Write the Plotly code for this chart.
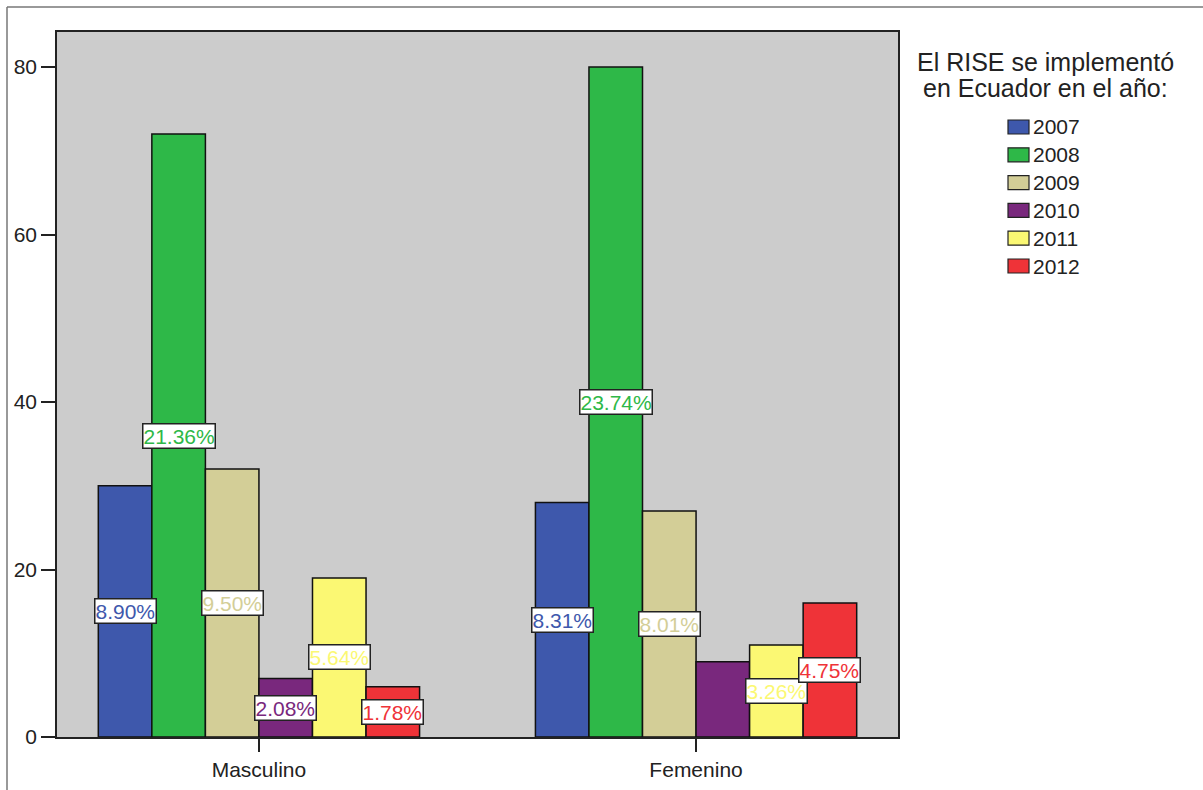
import plotly.graph_objects as go

# Data
categories = ["Masculino", "Femenino"]
years = ["2007", "2008", "2009", "2010", "2011", "2012"]
counts = {
    "2007": [30, 28],
    "2008": [72, 80],
    "2009": [32, 27],
    "2010": [7, 9],
    "2011": [19, 11],
    "2012": [6, 16],
}
# which percentage boxes are drawn (one per bar, per category)
show_label = {
    "2007": [True, True],
    "2008": [True, True],
    "2009": [True, True],
    "2010": [True, False],
    "2011": [True, True],
    "2012": [True, True],
}
colors = {
    "2007": "#3E58AC",
    "2008": "#2EB848",
    "2009": "#D3CE97",
    "2010": "#79287D",
    "2011": "#FBF873",
    "2012": "#EF3338",
}
y_ticks = [0, 20, 40, 60, 80]
legend_title_lines = ["El RISE se implementó", "en Ecuador en el año:"]

# Layout geometry (pixels)
W, H = 1203, 790
ML, MR, MT, MB = 57, 305, 32, 53
PW, PH = W - ML - MR, H - MT - MB

FONT = "Arial, Liberation Sans, sans-serif"
TXT = "#222222"

total = sum(sum(v) for v in counts.values())
n = len(years)
group_w = 0.735
bar_w = group_w / n

fig = go.Figure()
annotations = []
for j, yr in enumerate(years):
    xs = [i + (j - (n - 1) / 2) * bar_w for i in range(len(categories))]
    fig.add_trace(go.Bar(
        x=xs, y=counts[yr], width=bar_w, name=yr,
        marker=dict(color=colors[yr], line=dict(color="#111111", width=1.5)),
        showlegend=False, hoverinfo="y+name",
    ))
    for i, (x, v) in enumerate(zip(xs, counts[yr])):
        if not show_label[yr][i]:
            continue
        annotations.append(dict(
            x=x, y=v / 2, xref="x", yref="y",
            text=f"{v / total * 100:.2f}%", showarrow=False,
            font=dict(family=FONT, size=21, color=colors[yr]),
            bgcolor="white", bordercolor="#222222", borderwidth=1.5,
            borderpad=0,
        ))


def px_x(p):
    return (p - ML) / PW


def px_y(p):
    return (H - MB - p) / PH


# Legend drawn beside the plot
shapes = []
for k, line in enumerate(legend_title_lines):
    annotations.append(dict(
        x=px_x(1045), y=px_y(62 + k * 26), xref="paper", yref="paper",
        xanchor="center", yanchor="middle", showarrow=False,
        text=line, font=dict(family=FONT, size=25, color=TXT),
    ))
for j, yr in enumerate(years):
    cy = 127 + j * 27.8
    shapes.append(dict(
        type="rect", xref="paper", yref="paper",
        x0=px_x(1008), x1=px_x(1029), y0=px_y(cy - 7), y1=px_y(cy + 7),
        fillcolor=colors[yr], line=dict(color="#222222", width=1.2),
    ))
    annotations.append(dict(
        x=px_x(1031), y=px_y(cy), xref="paper", yref="paper",
        xanchor="left", yanchor="middle", showarrow=False,
        text=yr, font=dict(family=FONT, size=21, color=TXT),
    ))

# Outer frame (top and left edges)
shapes.append(dict(
    type="line", xref="paper", yref="paper",
    x0=px_x(7), x1=px_x(W + 5), y0=px_y(7), y1=px_y(7),
    line=dict(color="#777777", width=1.5),
))
shapes.append(dict(
    type="line", xref="paper", yref="paper",
    x0=px_x(7), x1=px_x(7), y0=px_y(7), y1=px_y(H + 5),
    line=dict(color="#777777", width=1.5),
))

fig.update_layout(
    width=W, height=H,
    margin=dict(l=ML, r=MR, t=MT, b=MB),
    paper_bgcolor="white", plot_bgcolor="#CCCCCC",
    font=dict(family=FONT, size=21, color=TXT),
    barmode="overlay",
    annotations=annotations, shapes=shapes,
    showlegend=False,
)
fig.update_xaxes(
    range=[-0.462, 1.462], tickvals=list(range(len(categories))),
    ticktext=categories, ticks="outside", ticklen=13, tickwidth=1.5,
    tickcolor="#222222", showgrid=False, zeroline=False,
    showline=True, linecolor="#222222", linewidth=1.5, mirror=True,
    tickfont=dict(family=FONT, size=21, color=TXT), automargin=False,
)
fig.update_yaxes(
    range=[0, 84.18], tickvals=y_ticks, ticks="outside", ticklen=14,
    tickwidth=1.5, tickcolor="#222222", showgrid=False, zeroline=False,
    showline=True, linecolor="#222222", linewidth=1.5, mirror=True,
    tickfont=dict(family=FONT, size=21, color=TXT), automargin=False,
)

fig.write_html("out.html")
